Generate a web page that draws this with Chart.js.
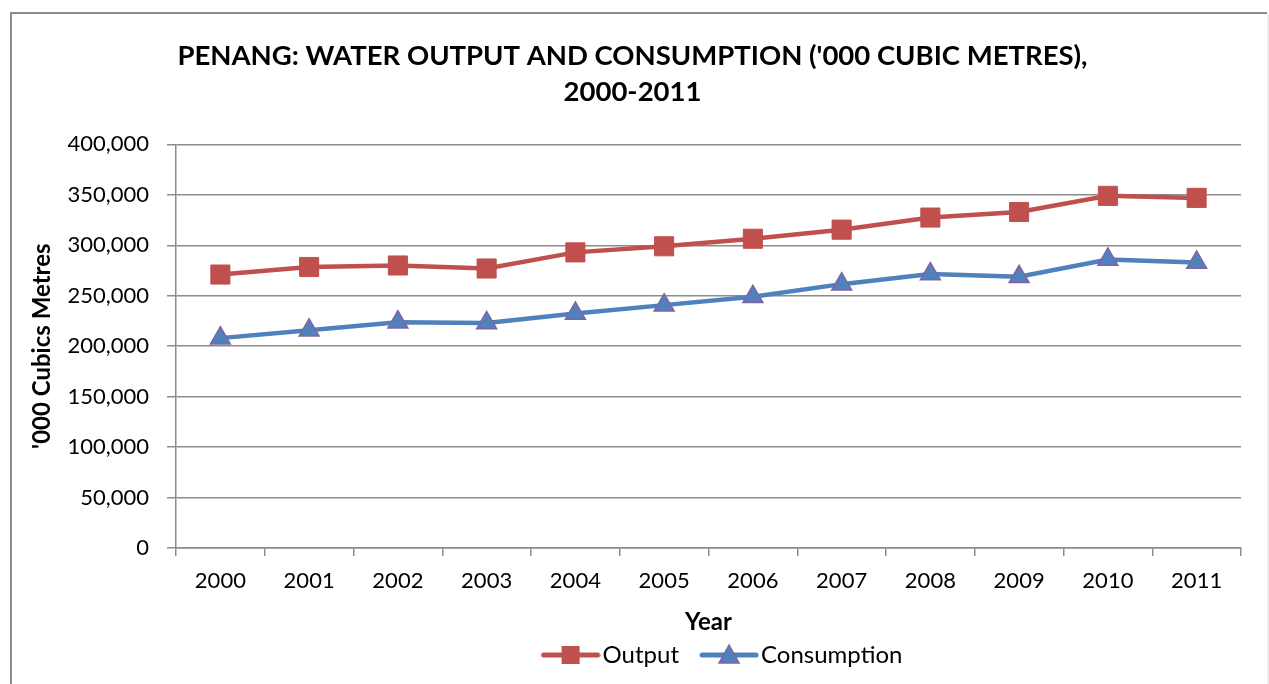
<!DOCTYPE html>
<html>
<head>
<meta charset="utf-8">
<script src="https://cdn.jsdelivr.net/npm/chart.js@4/dist/chart.umd.min.js"></script>
<style>
  html,body{margin:0;padding:0;background:#fff;}
  #wrap{width:1269px;height:684px;}
</style>
</head>
<body>
<div id="wrap"><canvas id="chart" width="1269" height="684"></canvas></div>
<script>
const years=["2000","2001","2002","2003","2004","2005","2006","2007","2008","2009","2010","2011"];
const output=[271000,278500,280000,277000,293000,299000,306500,315500,327500,333000,349000,347000];
const consumption=[208000,215800,223800,223000,232500,240700,249000,261500,271500,268800,286000,283000];
const yTicks=[0,50000,100000,150000,200000,250000,300000,350000,400000];

const RED="#C0504D", BLUE="#4F81BD", PURPLE="#8064A2";
const FONT="Lato, 'Open Sans', sans-serif";

// legend sample: line with the marker, shifted right so it sits close to the text
function legendIcon(color,marker,edge){
    const c=document.createElement("canvas");
    c.width=80; c.height=26;
    const g=c.getContext("2d");
    g.strokeStyle=color; g.lineWidth=5; g.lineCap="round";
    g.beginPath(); g.moveTo(23,13); g.lineTo(77,13); g.stroke();
    g.fillStyle=color; g.strokeStyle=edge; g.lineWidth=1.5;
    if(marker==="rect"){
        g.fillRect(41,4,18,18);
    } else {
        g.beginPath(); g.moveTo(50,3); g.lineTo(60,21); g.lineTo(40,21); g.closePath();
        g.fill(); g.stroke();
    }
    return c;
}
const icons=[legendIcon(RED,"rect",RED),legendIcon(BLUE,"triangle",PURPLE)];

const frame={
    id:"frame",
    afterLayout(chart){
        // legend in the original sits a bit right of the canvas centre
        chart.legend.left+=84;
        chart.legend.right+=84;
    },
    beforeDraw(chart){
        const c=chart.ctx;
        c.save();
        c.strokeStyle="#8c8c8c"; c.lineWidth=2;
        c.beginPath(); c.moveTo(11,700); c.lineTo(11,13); c.lineTo(1267,13); c.stroke();
        c.strokeStyle="#d9d9d9"; c.lineWidth=1;
        c.beginPath(); c.moveTo(1268,13); c.lineTo(1268,700); c.stroke();
        c.restore();
    }
};

const ctx=document.getElementById("chart").getContext("2d");
new Chart(ctx,{
    type:"line",
    data:{
        labels:years,
        datasets:[
            {label:"Output",data:output,borderColor:RED,backgroundColor:RED,borderWidth:4.5,
             pointStyle:"rect",pointRadius:13.5,pointHoverRadius:13.5,pointBackgroundColor:RED,
             pointBorderColor:RED,pointBorderWidth:1,tension:0},
            {label:"Consumption",data:consumption,borderColor:BLUE,backgroundColor:BLUE,borderWidth:4.5,
             pointStyle:"triangle",pointRadius:11.5,pointHoverRadius:11.5,pointBackgroundColor:BLUE,
             pointBorderColor:PURPLE,pointBorderWidth:1.5,tension:0}
        ]
    },
    options:{
        responsive:false,
        animation:false,
        layout:{padding:{left:24,right:28,top:0,bottom:7}},
        plugins:{
            title:{
                display:true,
                text:["PENANG: WATER OUTPUT AND CONSUMPTION ('000 CUBIC METRES),","2000-2011"],
                color:"#000",
                font:{family:FONT,size:27.5,weight:"bold",lineHeight:1.28},
                padding:{top:39,bottom:35}
            },
            legend:{
                position:"bottom",
                labels:{
                    color:"#000",
                    font:{family:FONT,size:24},
                    usePointStyle:true,
                    pointStyleWidth:60,
                    padding:10,
                    generateLabels(chart){
                        const items=Chart.defaults.plugins.legend.labels.generateLabels(chart);
                        items.forEach((it,i)=>{it.pointStyle=icons[i];});
                        return items;
                    }
                }
            },
            tooltip:{enabled:false}
        },
        scales:{
            x:{
                offset:true,
                grid:{offset:true,drawOnChartArea:false,drawTicks:true,tickLength:8,color:"#8c8c8c",lineWidth:1.5},
                border:{color:"#8c8c8c",width:1.5},
                ticks:{color:"#000",font:{family:FONT,size:22},padding:12,maxRotation:0},
                title:{display:true,text:"Year",color:"#000",font:{family:FONT,size:24,weight:"bold"},padding:{top:0,bottom:-4}},
                afterFit(s){s.height=85;}
            },
            y:{
                min:0,max:400000,
                afterBuildTicks(s){s.ticks=yTicks.map(v=>({value:v}));},
                grid:{color:"#8c8c8c",lineWidth:1.5,tickLength:9},
                border:{color:"#8c8c8c",width:1.5},
                ticks:{color:"#000",font:{family:FONT,size:22},padding:18,
                       callback:v=>v.toLocaleString("en-US")},
                title:{display:true,text:"'000 Cubics Metres",color:"#000",font:{family:FONT,size:24,weight:"bold"},padding:{top:4,bottom:4}},
                afterFit(s){s.width=152;}
            }
        }
    },
    plugins:[frame]
});
</script>
</body>
</html>
